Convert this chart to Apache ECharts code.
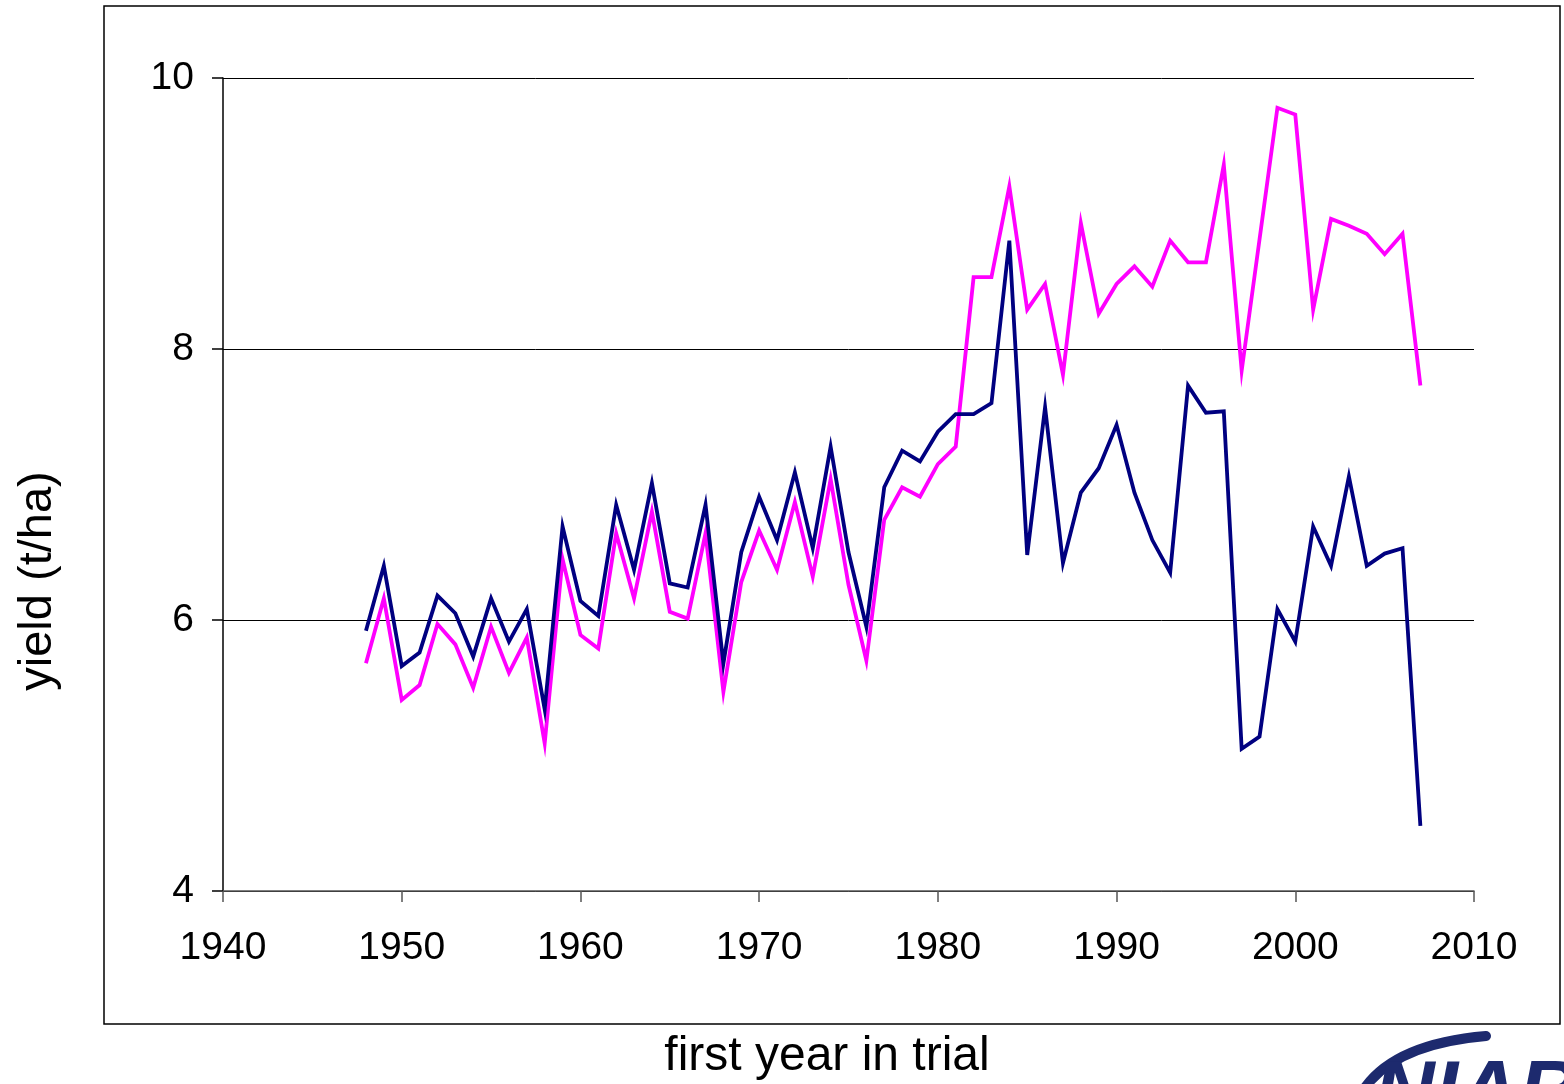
<!DOCTYPE html>
<html>
<head>
<meta charset="utf-8">
<title>Yield by first year in trial</title>
<script src="https://cdn.jsdelivr.net/npm/echarts@6/dist/echarts.min.js"></script>
<style>
  html, body { margin: 0; padding: 0; background: #fff; }
  #chart { width: 1564px; height: 1084px; }
</style>
</head>
<body>
<div id="chart"></div>
<script>
// First year in trial, 1948-2007
const years = [
  1948, 1949, 1950, 1951, 1952, 1953, 1954, 1955, 1956, 1957,
  1958, 1959, 1960, 1961, 1962, 1963, 1964, 1965, 1966, 1967,
  1968, 1969, 1970, 1971, 1972, 1973, 1974, 1975, 1976, 1977,
  1978, 1979, 1980, 1981, 1982, 1983, 1984, 1985, 1986, 1987,
  1988, 1989, 1990, 1991, 1992, 1993, 1994, 1995, 1996, 1997,
  1998, 1999, 2000, 2001, 2002, 2003, 2004, 2005, 2006, 2007
];

// Navy series, yield (t/ha)
const yieldNavy = [
  5.92, 6.40, 5.66, 5.76, 6.18, 6.05, 5.73, 6.16, 5.84, 6.08,
  5.34, 6.69, 6.14, 6.03, 6.85, 6.37, 7.01, 6.27, 6.24, 6.85,
  5.68, 6.50, 6.91, 6.59, 7.09, 6.53, 7.28, 6.50, 5.95, 6.98,
  7.25, 7.17, 7.39, 7.52, 7.52, 7.60, 8.80, 6.48, 7.57, 6.42,
  6.94, 7.12, 7.44, 6.94, 6.59, 6.35, 7.73, 7.53, 7.54, 5.05,
  5.14, 6.08, 5.84, 6.69, 6.40, 7.06, 6.40, 6.49, 6.53, 4.48
];

// Magenta series, yield (t/ha)
const yieldMagenta = [
  5.68, 6.16, 5.41, 5.52, 5.97, 5.82, 5.50, 5.95, 5.61, 5.87,
  5.09, 6.45, 5.89, 5.79, 6.64, 6.16, 6.80, 6.06, 6.01, 6.64,
  5.47, 6.28, 6.66, 6.37, 6.87, 6.32, 7.04, 6.26, 5.70, 6.74,
  6.98, 6.91, 7.15, 7.28, 8.53, 8.53, 9.20, 8.29, 8.48, 7.81,
  8.93, 8.26, 8.48, 8.61, 8.46, 8.80, 8.64, 8.64, 9.36, 7.84,
  8.81, 9.78, 9.73, 8.29, 8.96, 8.91, 8.85, 8.70, 8.85, 7.73
];

// Axis ranges and tick steps
const xTicks = { min: 1940, max: 2010, step: 10 };
const yTicks = { min: 4, max: 10, step: 2 };

const pairs = (vals) => years.map((y, i) => [y, vals[i]]);

const chart = echarts.init(document.getElementById('chart'), null, { renderer: 'canvas' });

const font = 'Arial, "Liberation Sans", Helvetica, sans-serif';
const logoBlue = '#1d2a6e';

chart.setOption({
  backgroundColor: '#ffffff',
  animation: false,
  grid: { left: 223, right: 90, top: 78, bottom: 193, containLabel: false },
  xAxis: {
    type: 'value',
    min: xTicks.min,
    max: xTicks.max,
    interval: xTicks.step,
    axisLine: { show: true, onZero: false, lineStyle: { color: '#555555', width: 1.5 } },
    axisTick: { show: true, inside: false, length: 11, lineStyle: { color: '#555555', width: 1.5 } },
    axisLabel: {
      margin: 38, color: '#000', fontFamily: font, fontSize: 39,
      formatter: (v) => String(v)
    },
    splitLine: { show: false }
  },
  yAxis: {
    type: 'value',
    min: yTicks.min,
    max: yTicks.max,
    interval: yTicks.step,
    axisLine: { show: true, onZero: false, lineStyle: { color: '#000', width: 1.5 } },
    axisTick: { show: true, inside: false, length: 11, lineStyle: { color: '#000', width: 1.5 } },
    axisLabel: { margin: 29, color: '#000', fontFamily: font, fontSize: 39 },
    splitLine: { show: true, lineStyle: { color: '#000', width: 1 } }
  },
  series: [
    {
      name: 'navy',
      type: 'line',
      data: pairs(yieldNavy),
      symbol: 'none',
      lineStyle: { color: '#000080', width: 3.8, join: 'miter' },
      z: 3
    },
    {
      name: 'magenta',
      type: 'line',
      data: pairs(yieldMagenta),
      symbol: 'none',
      lineStyle: { color: '#ff00ff', width: 3.8, join: 'miter' },
      z: 2
    }
  ],
  graphic: [
    // chart frame
    {
      type: 'rect',
      shape: { x: 104, y: 6, width: 1456, height: 1018 },
      style: { fill: 'none', stroke: '#000', lineWidth: 1.5 },
      silent: true
    },
    // axis titles
    {
      type: 'text',
      x: 38, y: 581,
      rotation: Math.PI / 2,
      style: {
        text: 'yield (t/ha)', fill: '#000', font: '47px ' + font,
        textAlign: 'center', textVerticalAlign: 'middle'
      }
    },
    {
      type: 'text',
      x: 827, y: 1057,
      style: {
        text: 'first year in trial', fill: '#000', font: '48px ' + font,
        textAlign: 'center', textVerticalAlign: 'middle'
      }
    },
    // NIAB logo, partly off the bottom edge
    {
      type: 'bezierCurve',
      shape: { x1: 1362, y1: 1092, cpx1: 1392, cpy1: 1044, x2: 1486, y2: 1036 },
      style: { stroke: logoBlue, lineWidth: 10, fill: 'none', lineCap: 'round' },
      silent: true
    },
    {
      type: 'text',
      x: 1374, y: 1054,
      style: {
        text: 'NIAB', fill: logoBlue, font: 'italic bold 84px ' + font,
        textAlign: 'left', textVerticalAlign: 'top'
      }
    }
  ]
});
</script>
</body>
</html>
